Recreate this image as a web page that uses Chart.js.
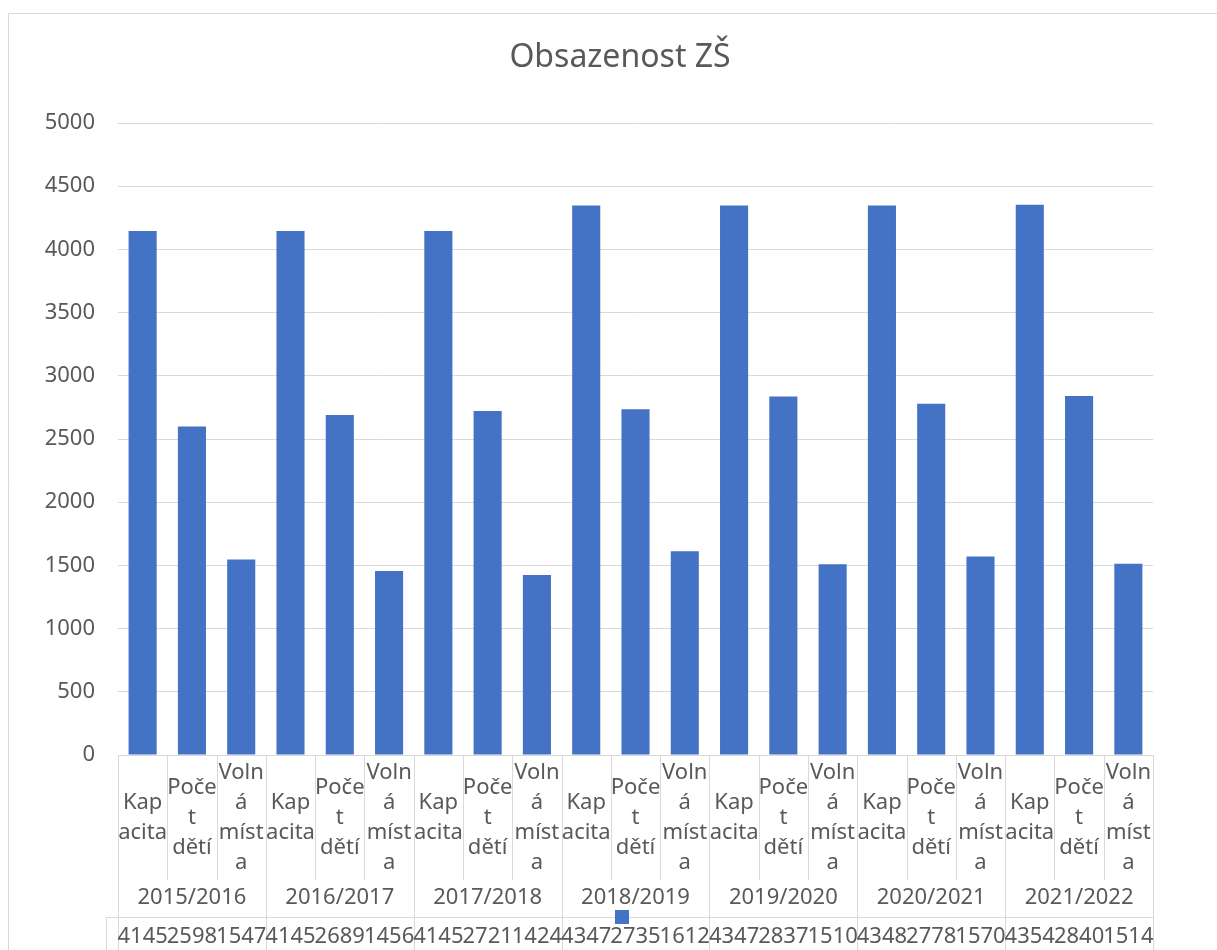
<!DOCTYPE html>
<html>
<head>
<meta charset="utf-8">
<script src="https://cdn.jsdelivr.net/npm/chart.js@4.4.1/dist/chart.umd.min.js"></script>
<style>
  html, body { margin: 0; padding: 0; background: #fff; }
  canvas { display: block; }
</style>
</head>
<body>
<canvas id="c" width="1217" height="950"></canvas>
<script>
// data
var years    = ["2015/2016", "2016/2017", "2017/2018", "2018/2019", "2019/2020", "2020/2021", "2021/2022"];
var items    = [["Kap", "acita"], ["Poče", "t", "dětí"], ["Voln", "á", "míst", "a"]];
var kapacita = [4145, 4145, 4145, 4347, 4347, 4348, 4354];
var pocet    = [2598, 2689, 2721, 2735, 2837, 2778, 2840];
var volna    = [1547, 1456, 1424, 1612, 1510, 1570, 1514];
var yTicks   = [0, 500, 1000, 1500, 2000, 2500, 3000, 3500, 4000, 4500, 5000];

var TEXT = "#595959", LINE = "#d9d9d9", BAR = "#4472C4";
var FONT = "'Noto Sans', sans-serif";

// flatten year x item into 21 categories
var labels = [], values = [];
years.forEach(function(y, i) {
  labels.push(items[0]); values.push(kapacita[i]);
  labels.push(items[1]); values.push(pocet[i]);
  labels.push(items[2]); values.push(volna[i]);
});

// ── category table, data table, title, frame ────────────────
var tablePlugin = {
  id: "excelTable",
  afterDraw: function(chart) {
    var ctx = chart.ctx, a = chart.chartArea, x = chart.scales.x;
    var w = x.getPixelForValue(1) - x.getPixelForValue(0);
    var base = a.bottom;
    var catBottom = base + 125, grpBottom = base + 162, canvasBottom = chart.height;
    var edge = function(i) { return Math.round(x.getPixelForValue(i) - w / 2) + 0.5; };

    ctx.save();
    // outer frame
    ctx.strokeStyle = LINE; ctx.lineWidth = 1;
    ctx.beginPath();
    ctx.moveTo(8.5, canvasBottom); ctx.lineTo(8.5, 13.5); ctx.lineTo(chart.width, 13.5);
    ctx.stroke();

    // title
    ctx.fillStyle = TEXT;
    ctx.font = "32px " + FONT;
    ctx.textAlign = "center"; ctx.textBaseline = "middle";
    ctx.fillText("Obsazenost ZŠ", 620, 58);

    // grid of the category/year/value table
    ctx.beginPath();
    ctx.moveTo(a.left, base + 0.5); ctx.lineTo(a.right, base + 0.5);
    for (var i = 0; i <= labels.length; i++) {
      var ex = edge(i);
      ctx.moveTo(ex, base);
      ctx.lineTo(ex, (i % 3 === 0) ? canvasBottom : catBottom);
    }
    var tableLeft = a.left - 12;
    ctx.moveTo(tableLeft + 0.5, grpBottom); ctx.lineTo(tableLeft + 0.5, canvasBottom);
    ctx.moveTo(tableLeft, grpBottom + 0.5); ctx.lineTo(a.right, grpBottom + 0.5);
    ctx.stroke();

    // category labels (wrapped)
    ctx.font = "22px " + FONT;
    ctx.fillStyle = TEXT;
    var lh = 30, catMid = base + 63;
    labels.forEach(function(lines, i) {
      var cx = x.getPixelForValue(i);
      var y0 = catMid - (lines.length - 1) * lh / 2;
      lines.forEach(function(s, k) { ctx.fillText(s, cx, y0 + k * lh); });
    });

    // year labels
    years.forEach(function(y, g) {
      var cx = (x.getPixelForValue(g * 3) + x.getPixelForValue(g * 3 + 2)) / 2;
      ctx.fillText(y, cx, base + 143);
    });

    // data table values
    values.forEach(function(v, i) {
      ctx.fillText(String(v), x.getPixelForValue(i), base + 182);
    });

    // legend key
    ctx.fillStyle = BAR;
    ctx.fillRect(615, grpBottom - 7, 14, 14);
    ctx.restore();
  }
};

new Chart(document.getElementById("c").getContext("2d"), {
  type: "bar",
  data: {
    labels: labels,
    datasets: [{
      label: "Obsazenost",
      data: values,
      backgroundColor: BAR,
      borderWidth: 0,
      barPercentage: 0.57,
      categoryPercentage: 1.0
    }]
  },
  options: {
    responsive: false,
    animation: false,
    layout: { padding: { top: 123, bottom: 195, right: 64, left: 0 } },
    plugins: {
      legend: { display: false },
      title: { display: false },
      tooltip: { enabled: false }
    },
    scales: {
      x: { display: false, offset: true },
      y: {
        min: 0, max: 5000,
        afterBuildTicks: function(s) { s.ticks = yTicks.map(function(v) { return { value: v }; }); },
        afterFit: function(s) { s.width = 118; },
        grid: { color: LINE, lineWidth: 1, drawTicks: false },
        border: { display: false },
        ticks: {
          color: TEXT, font: { family: FONT, size: 22 }, padding: 23,
          callback: function(v) { return String(v); }
        }
      }
    }
  },
  plugins: [tablePlugin]
});
</script>
</body>
</html>
